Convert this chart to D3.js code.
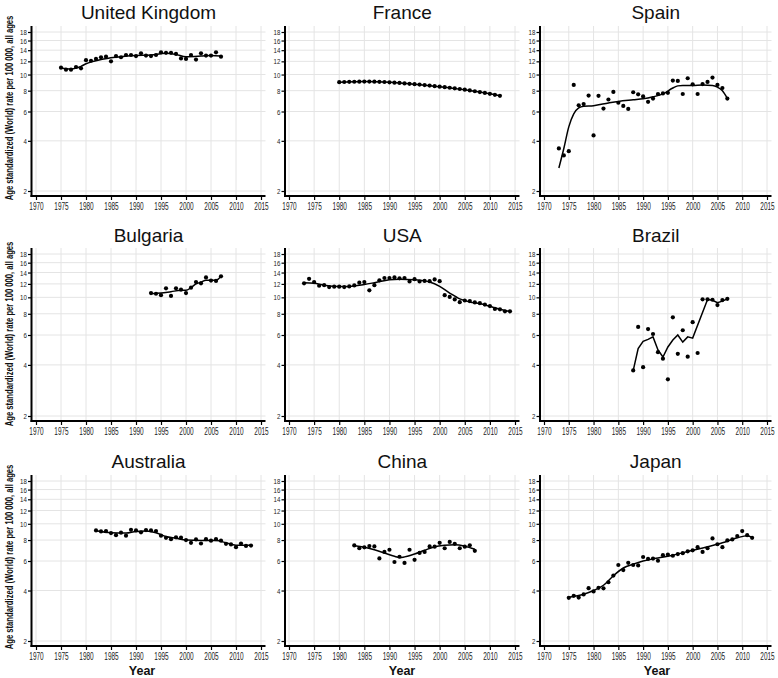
<!DOCTYPE html>
<html><head><meta charset="utf-8">
<script src="https://cdn.jsdelivr.net/npm/d3@7"></script>
<style>
body{margin:0;background:#fff;}
svg{display:block;}
.tick text{font-family:"Liberation Sans",Arial,sans-serif;fill:#222;}
</style></head>
<body><svg id="c" width="778" height="678"></svg>
<script>
// ---------- DATA ----------
const countries = ["United Kingdom","France","Spain","Bulgaria","USA","Brazil","Australia","China","Japan"];
const yTicks = [2,4,6,8,10,12,14,16,18];
const xTicks = [1970,1975,1980,1985,1990,1995,2000,2005,2010,2015];

// observed points: first year, then yearly values
const ukStart = 1975;
const ukPts = [11.0,10.7,10.7,11.1,10.9,12.2,12.1,12.4,12.7,12.8,12.0,12.9,12.7,13.1,13.1,12.9,13.4,13.0,12.9,13.1,13.6,13.5,13.5,13.3,12.5,12.4,13.1,12.3,13.4,13.0,13.0,13.6,12.8];
const ukFit = [[1975,10.95],[1977,10.8],[1979,11.2],[1980,11.6],[1983,12.3],[1986,12.7],[1990,13.0],[1993,13.1],[1996,13.4],[1998,13.2],[2000,12.8],[2003,12.9],[2005,13.0],[2007,12.9]];

const frStart = 1980;
const frPts = [9.0,9.02,9.04,9.05,9.06,9.07,9.07,9.06,9.04,9.02,8.98,8.94,8.90,8.85,8.80,8.75,8.70,8.64,8.58,8.52,8.46,8.40,8.33,8.26,8.19,8.11,8.03,7.94,7.85,7.76,7.66,7.56,7.45];
const frFit = [[1980,9.0],[1985,9.07],[1990,8.98],[1995,8.75],[2000,8.46],[2005,8.11],[2010,7.66],[2012,7.45]];

const esStart = 1973;
const esPts = [3.6,3.27,3.47,8.66,6.54,6.65,7.48,4.31,7.45,6.25,7.08,7.86,6.77,6.48,6.22,7.83,7.61,7.39,6.86,7.17,7.64,7.70,7.77,9.20,9.15,7.64,9.50,8.74,7.64,8.77,9.03,9.59,8.66,8.30,7.17];
const esFit = [[1973,2.75],[1974,3.6],[1975,4.85],[1976,5.8],[1977,6.3],[1978,6.45],[1980,6.5],[1983,6.75],[1985,6.9],[1988,7.05],[1990,7.15],[1992,7.35],[1994,7.65],[1996,8.3],[1997,8.55],[1998,8.6],[2000,8.6],[2002,8.65],[2004,8.6],[2005,8.4],[2006,8.0],[2007,7.2]];

const bgStart = 1993;
const bgPts = [10.6,10.5,10.3,11.3,10.2,11.3,11.1,10.6,11.4,12.3,12.1,13.1,12.55,12.5,13.3];
const bgFit = [[1993,10.5],[1995,10.6],[1997,10.8],[1999,11.0],[2000,11.0],[2001,11.4],[2002,12.0],[2003,12.3],[2004,12.6],[2005,12.6],[2006,12.6],[2007,13.3]];

const usStart = 1973;
const usPts = [12.1,12.85,12.3,11.7,11.8,11.5,11.55,11.55,11.5,11.6,11.75,12.2,12.3,11.0,11.8,12.6,13.0,13.0,13.1,12.95,13.0,12.4,12.8,12.4,12.5,12.45,12.75,12.45,10.3,10.05,9.72,9.37,9.58,9.5,9.33,9.24,9.06,8.88,8.55,8.5,8.27,8.27];
const usFit = [[1973,12.2],[1975,12.1],[1977,11.8],[1980,11.6],[1982,11.6],[1985,11.9],[1987,12.2],[1990,12.7],[1992,12.8],[1995,12.7],[1997,12.5],[1998,12.3],[2000,11.6],[2002,10.6],[2004,9.8],[2006,9.4],[2008,9.2],[2010,8.85],[2012,8.5],[2014,8.25]];

const brStart = 1988;
const brPts = [3.71,6.69,3.88,6.5,6.08,4.75,4.35,3.29,7.63,4.65,6.4,4.47,7.14,4.7,9.73,9.73,9.68,9.0,9.63,9.8];
const brFit = [[1988,3.7],[1989,4.99],[1990,5.5],[1991,5.65],[1992,5.85],[1993,4.9],[1994,4.45],[1995,5.1],[1996,5.6],[1997,6.0],[1998,5.45],[1999,5.85],[2000,5.75],[2003,9.7],[2004,9.6],[2005,9.3],[2006,9.5],[2007,9.8]];

const auStart = 1982;
const auPts = [9.13,9.0,9.05,8.8,8.55,8.85,8.5,9.2,9.13,8.9,9.17,9.13,9.05,8.5,8.25,8.1,8.3,8.27,8.0,7.7,8.07,7.63,8.1,7.93,8.1,7.93,7.6,7.53,7.25,7.63,7.38,7.42];
const auFit = [[1982,9.1],[1985,8.85],[1988,8.8],[1990,9.0],[1992,9.05],[1994,8.85],[1996,8.4],[1998,8.2],[2000,8.0],[2003,7.95],[2006,7.95],[2008,7.7],[2010,7.45],[2013,7.45]];

const cnStart = 1983;
const cnPts = [7.43,7.15,7.24,7.36,7.33,6.22,6.8,7.0,5.92,6.36,5.84,7.0,6.1,6.7,6.8,7.33,7.3,7.7,7.15,7.8,7.6,7.15,7.3,7.45,6.9];
const cnFit = [[1983,7.4],[1985,7.25],[1987,7.0],[1989,6.7],[1991,6.4],[1992,6.3],[1993,6.35],[1995,6.6],[1997,6.95],[1999,7.3],[2001,7.45],[2003,7.5],[2005,7.35],[2007,7.05]];

const jpStart = 1975;
const jpPts = [3.62,3.72,3.63,3.79,4.13,3.95,4.15,4.12,4.48,4.91,5.68,5.3,5.85,5.68,5.65,6.34,6.17,6.2,6.02,6.5,6.55,6.45,6.6,6.68,6.85,6.95,7.25,6.8,7.15,8.18,7.55,7.25,7.96,8.07,8.45,9.05,8.55,8.25];
const jpFit = [[1975,3.65],[1978,3.8],[1980,4.0],[1982,4.3],[1984,4.9],[1986,5.45],[1988,5.75],[1990,6.0],[1993,6.25],[1996,6.5],[2000,6.95],[2003,7.3],[2006,7.7],[2009,8.25],[2011,8.5],[2012,8.3]];

const starts = [ukStart,frStart,esStart,bgStart,usStart,brStart,auStart,cnStart,jpStart];
const points = [ukPts,frPts,esPts,bgPts,usPts,brPts,auPts,cnPts,jpPts];
const fits = [ukFit,frFit,esFit,bgFit,usFit,brFit,auFit,cnFit,jpFit];
const jagged = [false,false,false,false,false,true,false,false,false];

// ---------- LAYOUT ----------
const colAxisX = [31.5,285,540];
const colX1970 = [36,289,544];
const colX2015 = [261,515,767];
const rowY18 = [32,254,481];
const rowY2 = [191,416,641];
const titleBase = [19,242,468];
const yTitleCenter = [108,334,557];
const xTitleX = [142,402,657];
const xDigitW = 3.6, yDigitW = 3.4;

const svg = d3.select("#c");
const font = '"Liberation Sans",Arial,sans-serif';

countries.forEach((name,i)=>{
  const c = i%3, r = Math.floor(i/3);
  const x = d3.scaleLinear().domain([1970,2015]).range([colX1970[c],colX2015[c]]);
  const y = d3.scaleLog().domain([2,18]).range([rowY2[r],rowY18[r]]);
  const left = colAxisX[c], right = colX2015[c]+4.5;
  const top = rowY18[r]-6, bottom = rowY2[r]+5;
  const g = svg.append("g");

  // grid
  g.selectAll(".hg").data(yTicks).join("line")
    .attr("x1",left).attr("x2",right).attr("y1",d=>y(d)).attr("y2",d=>y(d))
    .attr("stroke","#e4e4e4").attr("stroke-width",1);
  g.selectAll(".vg").data(xTicks).join("line")
    .attr("x1",d=>x(d)).attr("x2",d=>x(d)).attr("y1",top).attr("y2",bottom)
    .attr("stroke","#e4e4e4").attr("stroke-width",1);

  // axes
  const ya = g.append("g").attr("transform",`translate(${left},0)`)
    .call(d3.axisLeft(y).tickValues(yTicks).tickFormat(d3.format("d")).tickSize(3.5).tickPadding(1));
  ya.select(".domain").remove();
  ya.append("line").attr("x1",0).attr("x2",0).attr("y1",top).attr("y2",bottom+1).attr("stroke","#000").attr("stroke-width",2);
  ya.selectAll(".tick text").attr("font-size",8).attr("x",0).attr("dx",-4.7)
    .each(function(){
      const t = d3.select(this);
      const n = this.getComputedTextLength();
      const sx = Math.min(1,(t.text().length*yDigitW)/n);
      t.attr("transform",`scale(${sx},1)`).attr("dx",-4.7/sx);
    });

  const xa = g.append("g").attr("transform",`translate(0,${bottom})`)
    .call(d3.axisBottom(x).tickValues(xTicks).tickFormat(d3.format("d")).tickSize(4).tickPadding(3));
  xa.select(".domain").remove();
  xa.append("line").attr("x1",left-1).attr("x2",right).attr("y1",0).attr("y2",0).attr("stroke","#000").attr("stroke-width",2);
  xa.selectAll(".tick text").attr("font-size",10)
    .each(function(){
      const t = d3.select(this);
      const n = this.getComputedTextLength();
      const sx = Math.min(1,(t.text().length*xDigitW)/n);
      t.attr("transform",`scale(${sx},1)`);
    });
  g.selectAll(".tick line").attr("stroke","#000").attr("stroke-width",1.2);

  // fit line
  const line = d3.line().x(d=>x(d[0])).y(d=>y(d[1]))
    .curve(jagged[i]?d3.curveLinear:d3.curveMonotoneX);
  g.append("path").attr("d",line(fits[i])).attr("fill","none").attr("stroke","#000").attr("stroke-width",1.5);

  // points
  g.selectAll(".pt").data(points[i]).join("circle")
    .attr("cx",(d,k)=>x(starts[i]+k)).attr("cy",d=>y(d)).attr("r",2.1).attr("fill","#000");

  // title
  g.append("text").attr("x",(left+right)/2).attr("y",titleBase[r]).attr("text-anchor","middle")
    .attr("font-family",font).attr("font-size",19).attr("fill","#111").text(name);

  if(c===0){
    const yt = svg.append("text").attr("transform",`translate(12.5,${yTitleCenter[r]}) rotate(-90)`)
      .attr("text-anchor","middle").attr("font-family",font)
      .attr("font-weight","bold").attr("font-size",11.5)
      .attr("fill","#111").text("Age standardized (World) rate per 100 000, all ages");
    const n = yt.node().getComputedTextLength();
    yt.attr("transform",`translate(12.5,${yTitleCenter[r]}) rotate(-90) scale(${185/n},1)`);
  }
  if(r===2){
    svg.append("text").attr("x",xTitleX[c]).attr("y",675).attr("text-anchor","middle")
      .attr("font-family",font).attr("font-weight","900").attr("font-size",12.5).attr("fill","#111").text("Year");
  }
});
</script></body></html>
